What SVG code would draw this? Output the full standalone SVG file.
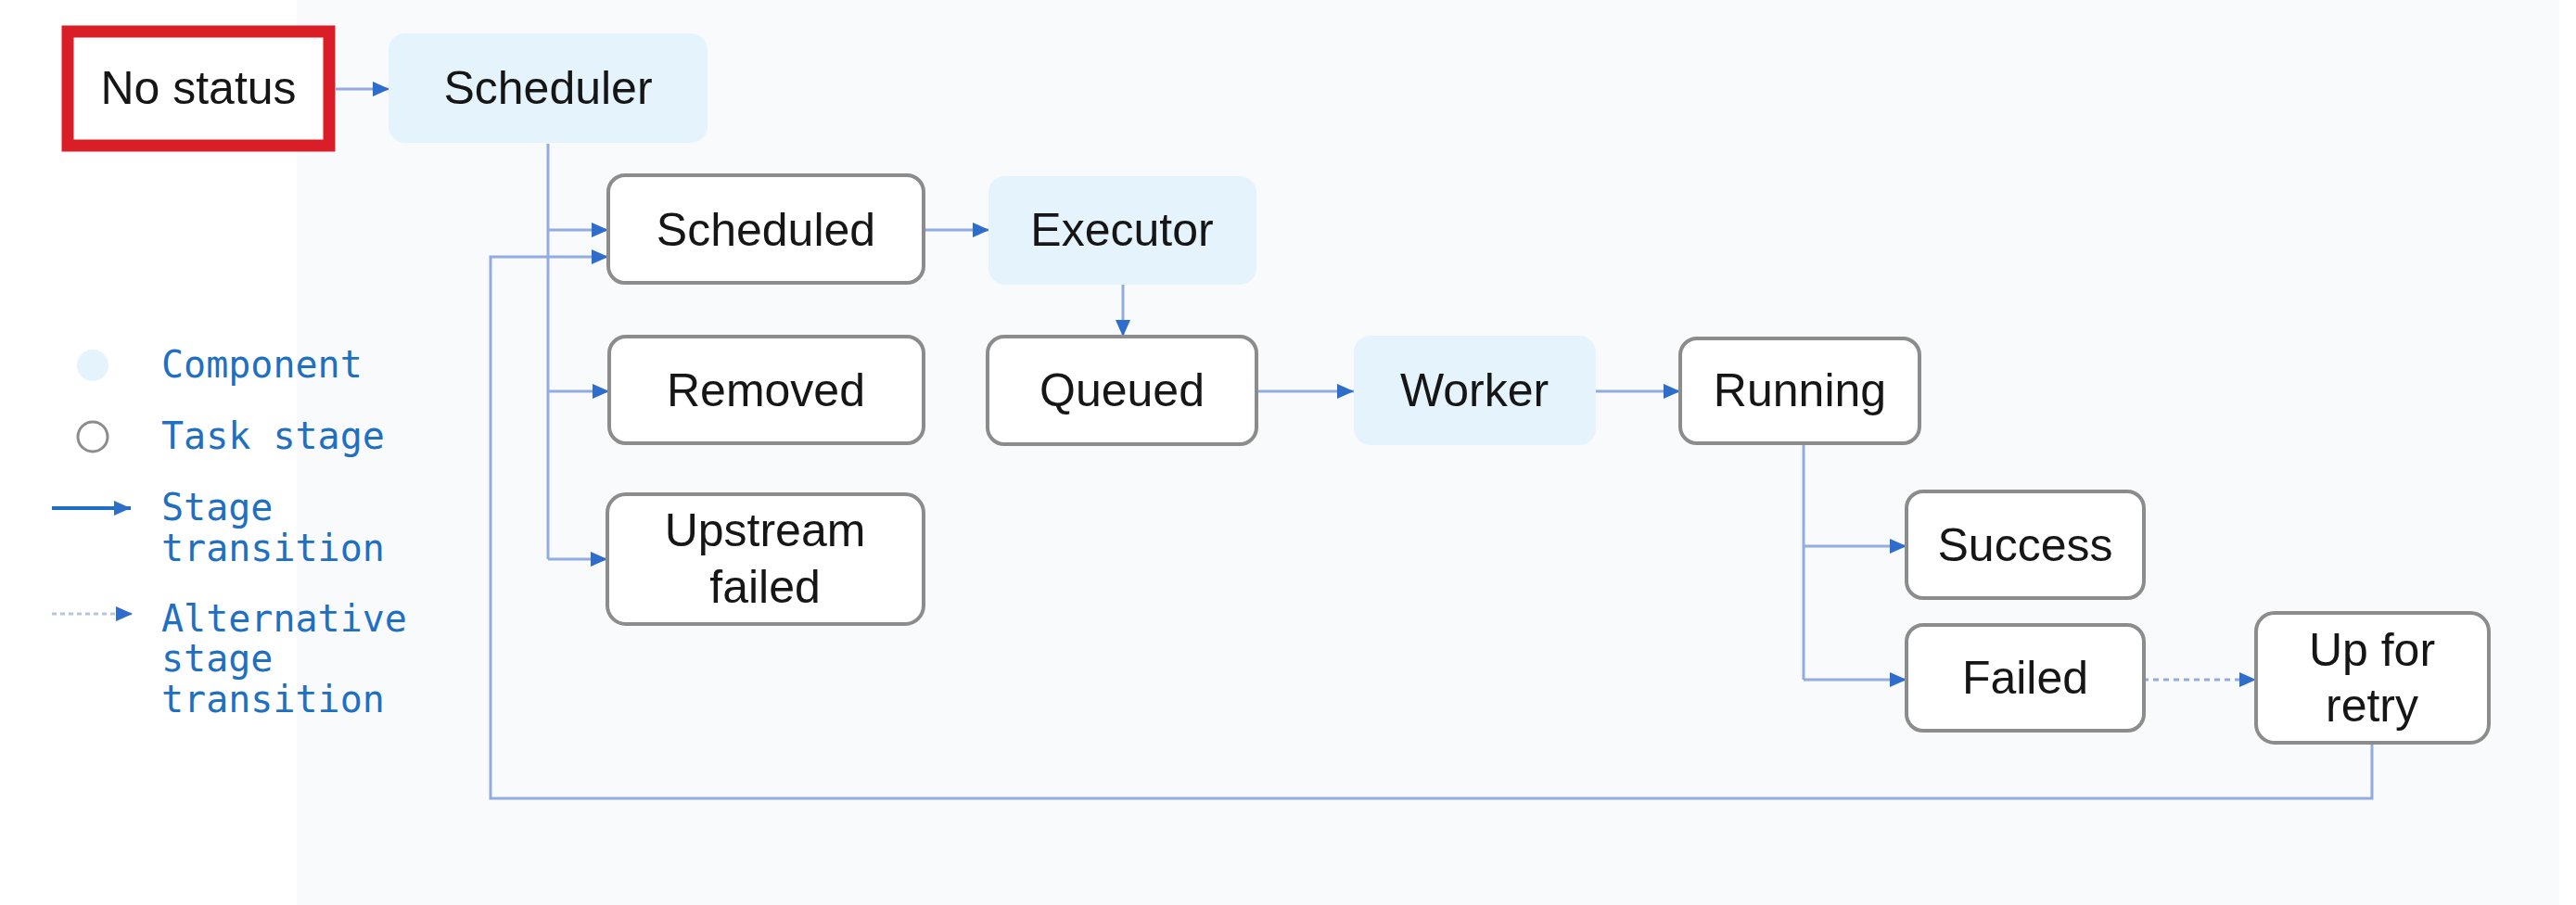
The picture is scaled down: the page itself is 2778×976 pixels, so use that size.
<svg xmlns="http://www.w3.org/2000/svg" width="2778" height="976" viewBox="0 0 2778 976">
<defs>
<style>
.stage{fill:#ffffff;stroke:#8c8c8c;stroke-width:4}
.comp{fill:#e4f3fc;stroke:none}
.lbl{font-family:"Liberation Sans",Arial,sans-serif;font-size:50px;fill:#161616;text-anchor:middle}
.leg{font-family:"DejaVu Sans Mono","Liberation Mono",monospace;font-size:40px;fill:#1f70c1}
.conn{fill:none;stroke:#92ace2;stroke-width:3}
.dash{fill:none;stroke:#92ace2;stroke-width:3;stroke-dasharray:6 5}
</style>
<marker id="arr" markerUnits="userSpaceOnUse" markerWidth="18" markerHeight="16" refX="18" refY="8" orient="auto">
<path d="M0,0 L18,8 L0,16 Z" fill="#2f6dcc"/>
</marker>
</defs>
<rect width="2778" height="976" fill="#ffffff"/>
<rect x="320" y="0" width="2440" height="976" fill="#f9fafc"/>

<g id="connectors">
<path class="conn" d="M362,96 H420" marker-end="url(#arr)"/>
<path class="conn" d="M591,155 V603"/>
<path class="conn" d="M591,248 H656" marker-end="url(#arr)"/>
<path class="conn" d="M591,422 H657" marker-end="url(#arr)"/>
<path class="conn" d="M591,603 H655" marker-end="url(#arr)"/>
<path class="conn" d="M996,248 H1067" marker-end="url(#arr)"/>
<path class="conn" d="M1211,307 V363" marker-end="url(#arr)"/>
<path class="conn" d="M1355,422 H1460" marker-end="url(#arr)"/>
<path class="conn" d="M1721,422 H1812" marker-end="url(#arr)"/>
<path class="conn" d="M1945,478 V733"/>
<path class="conn" d="M1945,589 H2056" marker-end="url(#arr)"/>
<path class="conn" d="M1945,733 H2056" marker-end="url(#arr)"/>
<path class="dash" d="M2311,733 H2433" marker-end="url(#arr)"/>
<path class="conn" d="M2558,802 V861 H529 V277 H656" marker-end="url(#arr)"/>
</g>

<g id="node-no-status">
<rect x="73" y="34" width="282" height="123" fill="#ffffff" stroke="#da1e28" stroke-width="13"/>
<text class="lbl" x="214" y="112">No status</text>
</g>
<g id="node-scheduler">
<rect class="comp" x="419" y="36" width="344" height="118" rx="18"/>
<text class="lbl" x="591" y="112">Scheduler</text>
</g>
<g id="node-scheduled">
<rect class="stage" x="656" y="189" width="340" height="116" rx="18"/>
<text class="lbl" x="826" y="265">Scheduled</text>
</g>
<g id="node-executor">
<rect class="comp" x="1066" y="190" width="289" height="117" rx="18"/>
<text class="lbl" x="1210" y="265">Executor</text>
</g>
<g id="node-removed">
<rect class="stage" x="657" y="363" width="339" height="115" rx="18"/>
<text class="lbl" x="826" y="438">Removed</text>
</g>
<g id="node-queued">
<rect class="stage" x="1065" y="363" width="290" height="116" rx="18"/>
<text class="lbl" x="1210" y="438">Queued</text>
</g>
<g id="node-worker">
<rect class="comp" x="1460" y="362" width="261" height="118" rx="18"/>
<text class="lbl" x="1590" y="438">Worker</text>
</g>
<g id="node-running">
<rect class="stage" x="1812" y="365" width="258" height="113" rx="18"/>
<text class="lbl" x="1941" y="438">Running</text>
</g>
<g id="node-upstream-failed">
<rect class="stage" x="655" y="533" width="341" height="140" rx="20"/>
<text class="lbl" x="825" y="589">Upstream</text>
<text class="lbl" x="825" y="650">failed</text>
</g>
<g id="node-success">
<rect class="stage" x="2056" y="530" width="256" height="115" rx="18"/>
<text class="lbl" x="2184" y="605">Success</text>
</g>
<g id="node-failed">
<rect class="stage" x="2056" y="674" width="256" height="114" rx="18"/>
<text class="lbl" x="2184" y="748">Failed</text>
</g>
<g id="node-up-for-retry">
<rect class="stage" x="2433" y="661" width="251" height="140" rx="20"/>
<text class="lbl" x="2558" y="718">Up for</text>
<text class="lbl" x="2558" y="778">retry</text>
</g>

<g id="legend">
<circle cx="100" cy="394" r="17" fill="#e4f3fc"/>
<text class="leg" x="174" y="407">Component</text>
<circle cx="100" cy="471" r="16" fill="none" stroke="#8c8c8c" stroke-width="3"/>
<text class="leg" x="174" y="484">Task stage</text>
<path d="M56,548 H141" fill="none" stroke="#1f6fc0" stroke-width="4" marker-end="url(#arr)"/>
<text class="leg" x="174" y="561">Stage</text>
<text class="leg" x="174" y="605">transition</text>
<path d="M56,662 H143" fill="none" stroke="#b8c3dc" stroke-width="3" stroke-dasharray="5 4" marker-end="url(#arr)"/>
<text class="leg" x="174" y="681">Alternative</text>
<text class="leg" x="174" y="724">stage</text>
<text class="leg" x="174" y="768">transition</text>
</g>
</svg>
